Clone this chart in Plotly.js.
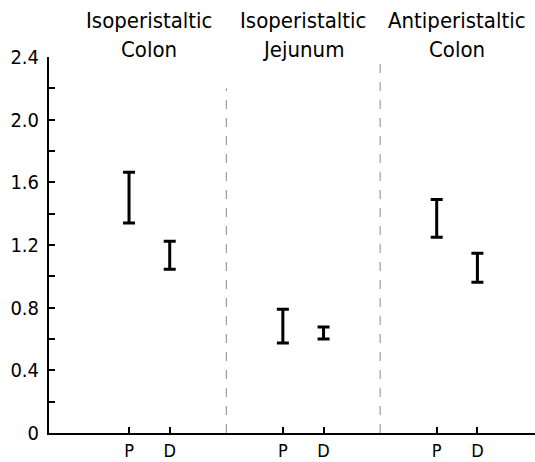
<!DOCTYPE html>
<html>
<head>
<meta charset="utf-8">
<script src="https://cdn.plot.ly/plotly-3.0.1.min.js"></script>
<style>html,body{margin:0;padding:0;background:#fff;}</style>
</head>
<body>
<div id="chart" style="width:535px;height:462px;"></div>
<script>
// ---- data ----
const groupLine1 = ["Isoperistaltic", "Isoperistaltic", "Antiperistaltic"];
const groupLine2 = ["Colon", "Jejunum", "Colon"];
const segments = ["P", "D"];
// range bars (lower, upper) per group, order: P, D
const lowerP = [1.34, 0.575, 1.25];
const upperP = [1.665, 0.79, 1.49];
const lowerD = [1.046, 0.60, 0.963];
const upperD = [1.224, 0.676, 1.148];
const yTickVals = [0, 0.2, 0.4, 0.6, 0.8, 1.0, 1.2, 1.4, 1.6, 1.8, 2.0, 2.2, 2.4];
const yTickText = ["0", "", "0.4", "", "0.8", "", "1.2", "", "1.6", "", "2.0", "", "2.4"];

// ---- layout helpers ----
const GS = 3.78; // group spacing in x units
const FONT = "'Liberation Sans Narrow', 'DejaVu Sans Condensed', sans-serif";

const xs = [], mids = [], plus = [], minus = [], tickvals = [], ticktext = [];
for (let g = 0; g < groupLine1.length; g++) {
  const lo = [lowerP[g], lowerD[g]], hi = [upperP[g], upperD[g]];
  for (let k = 0; k < 2; k++) {
    const x = g * GS + k;
    const m = (lo[k] + hi[k]) / 2;
    xs.push(x); mids.push(m);
    plus.push(hi[k] - m); minus.push(m - lo[k]);
    tickvals.push(x); ticktext.push(segments[k]);
  }
}

const trace = {
  x: xs, y: mids, type: "scatter", mode: "markers",
  marker: {size: 1, color: "rgba(0,0,0,0)"},
  error_y: {type: "data", symmetric: false, array: plus, arrayminus: minus,
            color: "#000", thickness: 3, width: 6},
  hoverinfo: "skip", showlegend: false
};

const annotations = [];
const shapes = [];
const dividerTops = [2.2, 2.4];
for (let g = 0; g < groupLine1.length; g++) {
  const cx = g * GS + 0.5;
  annotations.push({x: cx, xref: "x", y: 1.096, yref: "paper", yanchor: "middle", xanchor: "center",
    text: groupLine1[g], showarrow: false, font: {family: FONT, size: 22, color: "#000"}});
  annotations.push({x: cx, xref: "x", y: 1.021, yref: "paper", yanchor: "middle", xanchor: "center",
    text: groupLine2[g], showarrow: false, font: {family: FONT, size: 22, color: "#000"}});
  if (g < groupLine1.length - 1) {
    const dx = g * GS + 1 + (GS - 1) / 2;
    shapes.push({type: "line", xref: "x", yref: "y", x0: dx, x1: dx, y0: 0, y1: dividerTops[g],
      line: {color: "#888", width: 1, dash: "dash"}});
  }
}

const layout = {
  width: 535, height: 462,
  margin: {l: 49, r: 0, t: 57, b: 29, pad: 0},
  paper_bgcolor: "#fff", plot_bgcolor: "#fff",
  font: {family: FONT, color: "#000"},
  xaxis: {range: [-1.966, 9.975], showline: true, linecolor: "#000", linewidth: 2,
    ticks: "inside", ticklen: 6, tickwidth: 2, tickcolor: "#000",
    tickvals: tickvals, ticktext: ticktext, showgrid: false, zeroline: false,
    tickfont: {family: FONT, size: 18, color: "#000"}},
  yaxis: {range: [0, 2.4], showline: true, linecolor: "#000", linewidth: 2,
    ticks: "inside", ticklen: 6, tickwidth: 2, tickcolor: "#000",
    tickvals: yTickVals, ticktext: yTickText, showgrid: false, zeroline: false,
    ticklabelstandoff: 4,
    tickfont: {family: FONT, size: 20, color: "#000"}},
  annotations: annotations,
  shapes: shapes
};

Plotly.newPlot("chart", [trace], layout, {displayModeBar: false, staticPlot: true});
</script>
</body>
</html>
